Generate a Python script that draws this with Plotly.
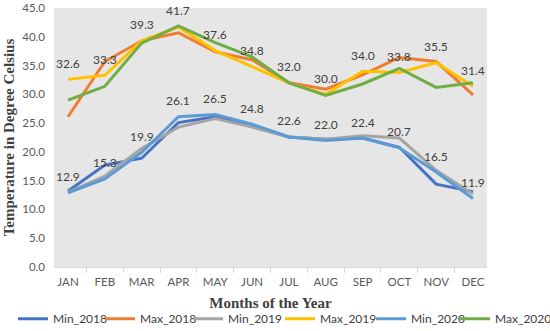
import plotly.graph_objects as go

months = ["JAN", "FEB", "MAR", "APR", "MAY", "JUN", "JUL", "AUG", "SEP", "OCT", "NOV", "DEC"]

min_2018 = [13.2, 17.7, 18.9, 25.1, 26.1, 24.5, 22.6, 22.2, 22.4, 20.8, 14.4, 13.1]
max_2018 = [26.1, 35.7, 39.3, 40.7, 37.4, 36.0, 32.0, 30.9, 33.4, 36.4, 35.7, 29.9]
min_2019 = [13.0, 15.8, 20.6, 24.3, 25.8, 24.3, 22.6, 22.2, 22.8, 22.4, 16.8, 12.7]
max_2019 = [32.6, 33.3, 39.3, 41.7, 37.6, 34.8, 32.0, 30.0, 34.0, 33.8, 35.5, 31.4]
min_2020 = [12.9, 15.3, 19.9, 26.1, 26.5, 24.8, 22.6, 22.0, 22.4, 20.7, 16.5, 11.9]
max_2020 = [29.0, 31.4, 38.9, 41.9, 39.0, 36.5, 32.0, 29.8, 31.8, 34.5, 31.2, 32.0]

upper_labels = ["32.6", "33.3", "39.3", "41.7", "37.6", "34.8", "32.0", "30.0", "34.0", "33.8", "35.5", "31.4"]
lower_labels = ["12.9", "15.3", "19.9", "26.1", "26.5", "24.8", "22.6", "22.0", "22.4", "20.7", "16.5", "11.9"]

series_names = ["Min_2018", "Max_2018", "Min_2019", "Max_2019", "Min_2020", "Max_2020"]
series_values = [min_2018, max_2018, min_2019, max_2019, min_2020, max_2020]
series_colors = ["#4472C4", "#ED7D31", "#A5A5A5", "#FFC000", "#5B9BD5", "#70AD47"]
legend_ids = ["legend", "legend2", "legend3", "legend4", "legend5", "legend6"]
legend_x = [-0.0947, 0.1062, 0.3095, 0.5219, 0.7321, 0.9261]

fig = go.Figure()
for name, vals, color, lg in zip(series_names, series_values, series_colors, legend_ids):
    fig.add_trace(go.Scatter(x=months, y=vals, mode="lines", name=name, legend=lg,
                             line=dict(color=color, width=3)))

label_font = dict(family="Lato, Liberation Sans, sans-serif", size=12, color="#404040")
for vals, labels in ((max_2019, upper_labels), (min_2020, lower_labels)):
    for m, v, t in zip(months, vals, labels):
        fig.add_annotation(x=m, y=v, text=t, showarrow=False, yshift=16, font=label_font)

tick_font = dict(family="Lato, Liberation Sans, sans-serif", size=11.5, color="#595959")
title_font = dict(family="Liberation Serif, DejaVu Serif, serif", size=15, color="#404040")
legend_font = dict(family="Lato, Liberation Sans, sans-serif", size=12, color="#404040")

legends = {}
for lg, lx in zip(legend_ids, legend_x):
    legends[lg] = dict(orientation="h", yanchor="middle", y=-0.2, xanchor="left", x=lx,
                       font=legend_font, itemwidth=30, bgcolor="rgba(0,0,0,0)")

fig.update_layout(
    width=550, height=331,
    margin=dict(l=54, r=63, t=8, b=64, autoexpand=False),
    paper_bgcolor="white",
    plot_bgcolor="#E7E6E6",
    showlegend=True,
    xaxis=dict(type="category", showgrid=False, showline=True, linecolor="#D9D9D9", linewidth=1,
               ticks="outside", tickson="boundaries", ticklen=5, tickcolor="#D9D9D9",
               tickfont=tick_font, ticklabelstandoff=4,
               title=dict(text="<b>Months of the Year</b>", font=title_font, standoff=10)),
    yaxis=dict(range=[0, 45], dtick=5, tickformat=".1f", showgrid=False, zeroline=False,
               showline=False, tickfont=tick_font, ticks="", ticklabelstandoff=8,
               title=dict(text="<b>Temperature in Degree Celsius</b>", font=title_font, standoff=4)),
    **legends,
)

fig.write_html("out.html", config={"displayModeBar": False},
               post_script="document.body.style.margin='0';")
